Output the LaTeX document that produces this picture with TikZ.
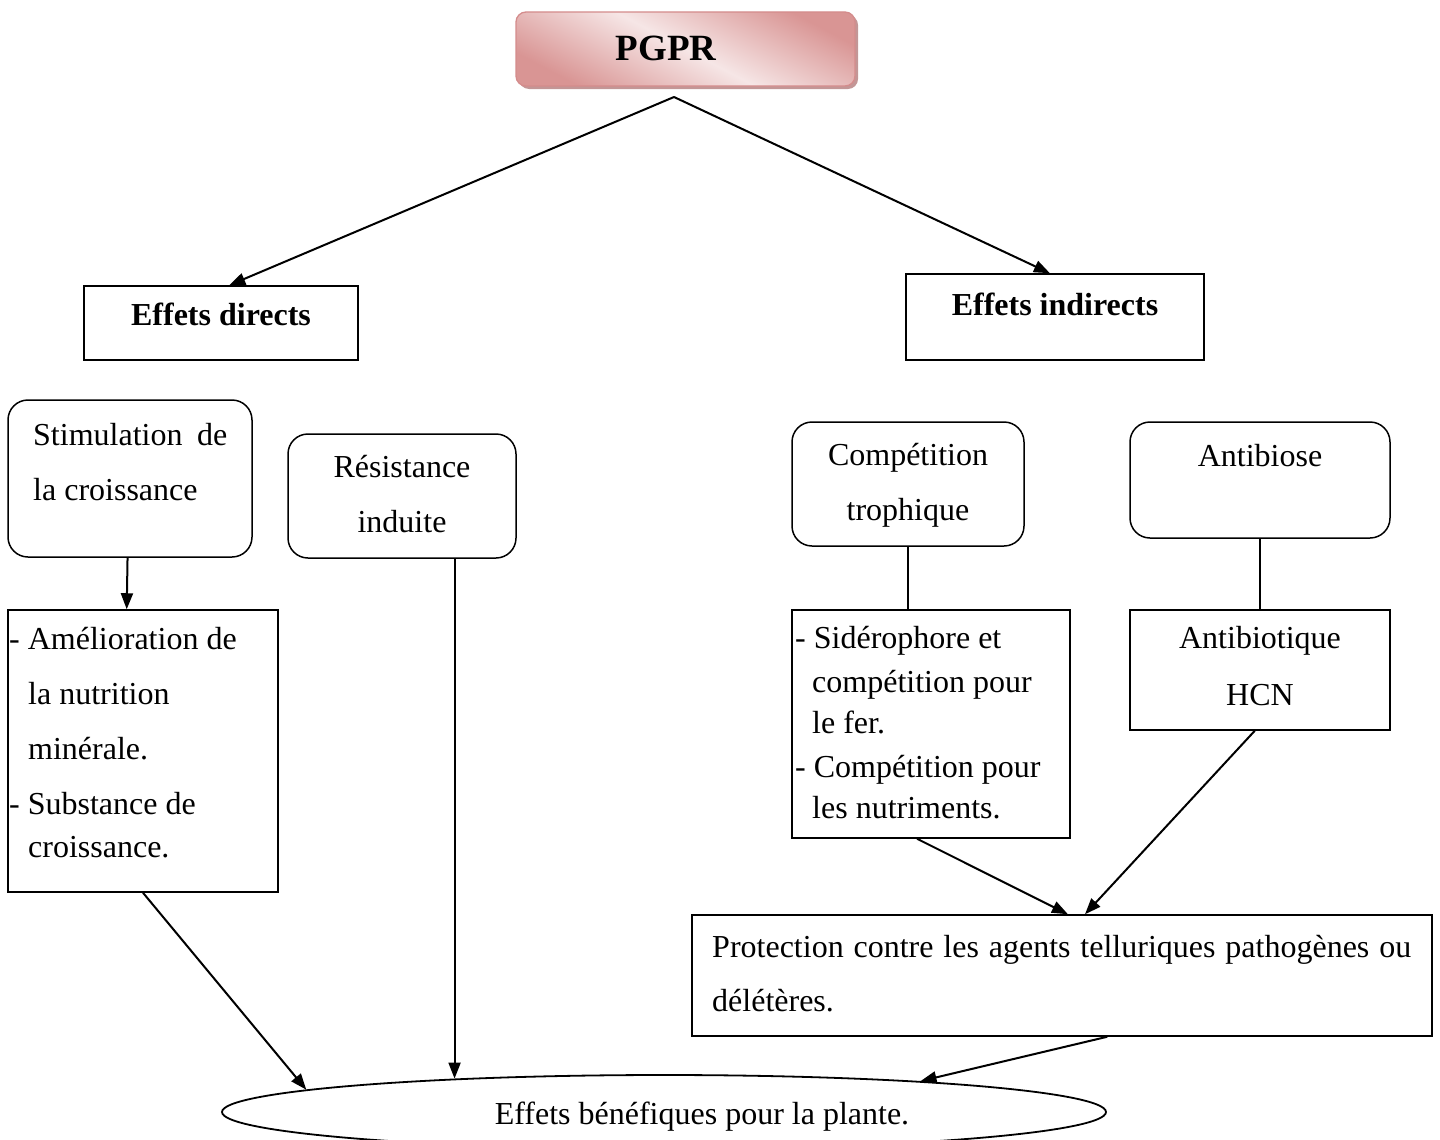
\documentclass[tikz,border=0pt]{standalone}
\usepackage{fontspec}
\setmainfont{Liberation Serif}
\usetikzlibrary{arrows.meta,shapes.geometric,calc,shadows}
\definecolor{pgdark}{HTML}{D99594}
\definecolor{pglight}{HTML}{F6E6E6}
\definecolor{pgline}{HTML}{D48C8C}
\definecolor{pgshadow}{HTML}{C39696}
\begin{document}
\begin{tikzpicture}[x=1pt,y=-1pt,
  txt/.style={font=\fontsize{32}{38}\selectfont, inner sep=0pt},
  btxt/.style={font=\fontsize{32}{38}\selectfont\bfseries, inner sep=0pt},
  sbox/.style={draw, line width=1.5pt, inner sep=0pt},
  rbox/.style={sbox, rounded corners=20pt},
  arr/.style={line width=2pt, -{Triangle[length=16pt,width=12pt]}},
  link/.style={line width=1.5pt}]
\useasboundingbox (0,0) rectangle (1440,1140);

% PGPR
\node[draw=pgline, line width=1.3pt, rounded corners=10pt, inner sep=0pt,
  minimum width=339pt, minimum height=74pt,
  drop shadow={shadow xshift=3pt, shadow yshift=-3pt, fill=pgshadow, opacity=1},
  shading=axis, top color=pgdark, bottom color=pgdark, middle color=pglight, shading angle=-28]
  (pgpr) at (685.5,49) {};
\node[inner sep=0pt, font=\fontsize{37}{44}\selectfont\bfseries, anchor=base] (tpgpr) at (666,60) {PGPR};
\coordinate (apex) at (674,97);

% Level 1
\node[sbox, minimum width=274pt, minimum height=74pt] (ed) at (221,323) {};
\node[btxt, anchor=base] (ted) at (221,325) {Effets directs};
\node[sbox, minimum width=298pt, minimum height=86pt] (ei) at (1055,317) {};
\node[btxt, anchor=base] (tei) at (1055,315) {Effets indirects};

% Level 2
\node[rbox, minimum width=244pt, minimum height=157pt] (stim) at (130,478.5) {};
\node[txt, anchor=base west] (ts1) at (33,445) {\hbox to 194pt{Stimulation\hfil de}};
\node[txt, anchor=base west] (ts2) at (33,500) {la croissance};

\node[rbox, minimum width=228pt, minimum height=124pt] (res) at (402,496) {};
\node[txt, anchor=base] (tr1) at (402,477) {Résistance};
\node[txt, anchor=base] (tr2) at (402,532) {induite};

\node[rbox, minimum width=232pt, minimum height=124pt] (comp) at (908,484) {};
\node[txt, anchor=base] (tc1) at (908,465) {Compétition};
\node[txt, anchor=base] (tc2) at (908,520) {trophique};

\node[rbox, minimum width=260pt, minimum height=116pt] (antib) at (1260,480) {};
\node[txt, anchor=base] (ta1) at (1260,466) {Antibiose};

% Level 3
\node[sbox, minimum width=270pt, minimum height=282pt] (amel) at (143,751) {};
\node[txt, anchor=base west] (tm1) at (9,649) {- Amélioration de};
\node[txt, anchor=base west] (tm2) at (28,704) {la nutrition};
\node[txt, anchor=base west] (tm3) at (28,759) {minérale.};
\node[txt, anchor=base west] (tm4) at (9,814) {- Substance de};
\node[txt, anchor=base west] (tm5) at (28,857) {croissance.};

\node[sbox, minimum width=278pt, minimum height=228pt] (sid) at (931,724) {};
\node[txt, anchor=base west] (td1) at (795,648) {- Sidérophore et};
\node[txt, anchor=base west] (td2) at (812,692) {compétition pour};
\node[txt, anchor=base west] (td3) at (812,733) {le fer.};
\node[txt, anchor=base west] (td4) at (795,777) {- Compétition pour};
\node[txt, anchor=base west] (td5) at (812,818) {les nutriments.};

\node[sbox, minimum width=260pt, minimum height=120pt] (antibio) at (1260,670) {};
\node[txt, anchor=base] (tb1) at (1260,648) {Antibiotique};
\node[txt, anchor=base] (tb2) at (1260,705) {HCN};

% Protection
\node[sbox, minimum width=740pt, minimum height=121pt] (prot) at (1062,975.5) {};
\node[txt, anchor=base west] (tp1) at (712,957) {\hbox to 699pt{Protection contre les agents telluriques pathogènes ou}};
\node[txt, anchor=base west] (tp2) at (712,1011) {délétères.};

% Ellipse
\node[draw, ellipse, line width=1.8pt, inner sep=0pt, minimum width=884pt, minimum height=74pt] (ell) at (664,1112) {};
\node[txt, anchor=base] (tell) at (702,1124) {Effets bénéfiques pour la plante.};

% points on the ellipse border
\coordinate (eA) at ($(ell.center)!0.8077!(ell.west) + 0.5896*(ell.north) - 0.5896*(ell.center)$);
\coordinate (eR) at ($(ell.center)!0.4729!(ell.west) + 0.8811*(ell.north) - 0.8811*(ell.center)$);
\coordinate (eP) at ($(ell.center)!0.5792!(ell.east) + 0.8152*(ell.north) - 0.8152*(ell.center)$);

% Connectors
\draw[arr] (apex) -- ($(ed.north west)!0.53!(ed.north east)$);
\draw[arr] (apex) -- ($(ei.north west)!0.483!(ei.north east)$);
\draw[arr] ($(stim.south west)!0.49!(stim.south east)$) -- ($(amel.north west)!0.44!(amel.north east)$);
\draw[arr] (eR |- res.south) -- (eR);
\draw[arr] (amel.south) -- (eA);
\draw[link] (comp.south) -- (comp.south |- sid.north);
\draw[link] (antib.south) -- (antibio.north);
\draw[arr] ($(sid.south west)!0.45!(sid.south east)$) -- ($(prot.north west)!0.508!(prot.north east)$);
\draw[arr] ($(antibio.south west)!0.48!(antibio.south east)$) -- ($(prot.north west)!0.531!(prot.north east)$);
\draw[arr] ($(prot.south west)!0.561!(prot.south east)$) -- (eP);
\end{tikzpicture}
\end{document}
